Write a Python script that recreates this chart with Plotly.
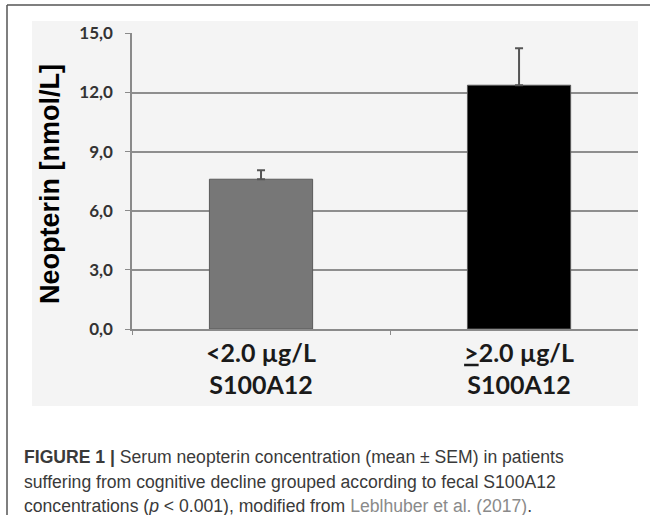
import plotly.graph_objects as go

# ---- data ----
categories = ["&lt;2.0 µg/L<br>S100A12", "<u>&gt;</u>2.0 µg/L<br>S100A12"]
means = [7.6, 12.37]
sem = [0.45, 1.87]
bar_colors = ["#777777", "#000000"]
y_ticks = [0, 3, 6, 9, 12, 15]

# ---- layout geometry (pixels) ----
W, H = 652, 515
PL, PR, PT, PB = 132, 638, 33, 329  # plot area box
pw, ph = PR - PL, PB - PT

def px(x):
    return (x - PL) / pw

def py(y):
    return (PB - y) / ph

fig = go.Figure()
fig.add_trace(go.Bar(
    x=categories,
    y=means,
    width=0.4,
    marker=dict(color=bar_colors, line=dict(color="#5a5a5a", width=1)),
    error_y=dict(type="data", array=sem, arrayminus=[0] * len(sem), symmetric=False,
                 color="#555555", thickness=2, width=4),
    showlegend=False,
    hoverinfo="skip",
))

shapes = [
    # chart-area background
    dict(type="rect", xref="paper", yref="paper", x0=px(32), x1=px(638), y0=py(406), y1=py(21),
         fillcolor="#f4f4f4", line=dict(width=0), layer="below"),
    # figure frame lines
    dict(type="line", xref="paper", yref="paper", x0=px(7), x1=px(7), y0=py(5), y1=py(515),
         line=dict(color="#555555", width=1.5)),
    dict(type="line", xref="paper", yref="paper", x0=px(7), x1=px(650), y0=py(5), y1=py(5),
         line=dict(color="#555555", width=1.5)),
]

cap_font = dict(family="Liberation Sans, Arial, sans-serif", size=17.6, color="#3a3a3a")
captions = [
    "<b>FIGURE 1 |</b> Serum neopterin concentration (mean ± SEM) in patients",
    "suffering from cognitive decline grouped according to fecal S100A12",
    "concentrations (<i>p</i> &lt; 0.001), modified from <span style='color:#8a8a8a'>Leblhuber et al. (2017)</span>.",
]
cap_y = [457, 482, 506]
annotations = []
for t, yy in zip(captions, cap_y):
    annotations.append(dict(text=t, xref="paper", yref="paper", x=px(22), y=py(yy),
                            xanchor="left", yanchor="middle", showarrow=False, font=cap_font))
annotations.append(dict(text="<b>Neopterin [nmol/L]</b>", xref="paper", yref="paper",
                        x=px(50), y=py(184), textangle=-90, showarrow=False,
                        xanchor="center", yanchor="middle",
                        font=dict(family="Liberation Sans, Arial, sans-serif", size=27, color="#000000")))

fig.update_layout(
    width=W, height=H, autosize=False,
    margin=dict(l=PL, r=W - PR, t=PT, b=H - PB, pad=0),
    paper_bgcolor="white", plot_bgcolor="#f4f4f4",
    separators=",.",
    bargap=0.6,
    shapes=shapes,
    annotations=annotations,
    xaxis=dict(
        type="category", range=[-0.5, 1.461],
        showline=True, linecolor="#8a8a8a", linewidth=1.5,
        ticks="outside", tickson="boundaries", ticklen=4, tickcolor="#8a8a8a",
        ticklabelstandoff=1,
        showgrid=False,
        tickfont=dict(family="Lato, sans-serif", size=25, color="#1a1a1a", weight="bold"),
    ),
    yaxis=dict(
        range=[0, 15.02], tickvals=y_ticks, tickformat=".1f",
        showline=True, linecolor="#8a8a8a", linewidth=1.5,
        ticks="outside", ticklen=5, tickcolor="#8a8a8a",
        ticklabelstandoff=9,
        showgrid=True, gridcolor="#8e8e8e", gridwidth=1.5, zeroline=False,
        tickfont=dict(family="Lato, sans-serif", size=17, color="#333333", weight="bold"),
    ),
)

fig.write_html("out.html", config={"displayModeBar": False},
               post_script="document.body.style.margin='0';document.body.style.padding='0';")
